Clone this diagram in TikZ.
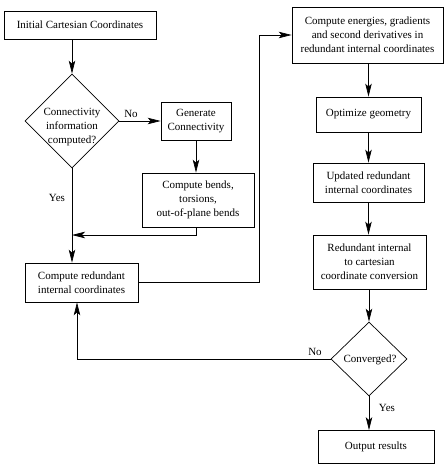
\documentclass[tikz,border=0pt]{standalone}
\usepackage{fontspec}
\setmainfont{Liberation Serif}
\usetikzlibrary{shapes.geometric,arrows.meta}

\tikzset{
  box/.style={draw, line width=0.7pt, align=center, inner sep=0pt,
              font=\fontsize{11}{14}\selectfont},
  decision/.style={draw, diamond, line width=0.7pt, inner sep=0pt},
  txt/.style={align=center, inner sep=0pt, font=\fontsize{11}{14}\selectfont},
  arr/.style={line width=0.7pt, -{Stealth[length=13pt,width=6.5pt,inset=3pt]}},
  ln/.style={line width=0.7pt}
}

\begin{document}
\begin{tikzpicture}[x=1pt,y=-1pt]
  \useasboundingbox (0,0) rectangle (446,464);

  % left column
  \node[box, minimum width=152pt, minimum height=28pt] (init) at (80,25)
    {Initial Cartesian Coordinates};
  \node[decision, minimum width=94pt, minimum height=94pt] (dia1) at (72,121) {};
  \node[txt] (dia1t) at (72,127) {Connectivity\\information\\computed?};
  \node[box, minimum width=70pt, minimum height=38pt] (gen) at (196,121)
    {Generate\\Connectivity};
  \node[box, minimum width=112pt, minimum height=54pt] (bends) at (198,200)
    {Compute bends,\\torsions,\\out-of-plane bends};
  \node[box, minimum width=113pt, minimum height=39pt] (red) at (81.5,282.5)
    {Compute redundant\\internal coordinates};

  % right column
  \node[box, minimum width=151pt, minimum height=56pt] (energies) at (367.5,35)
    {Compute energies, gradients\\and second derivatives in\\redundant internal coordinates};
  \node[box, minimum width=105pt, minimum height=35pt] (opt) at (368.5,114.5)
    {Optimize geometry};
  \node[box, minimum width=111pt, minimum height=39pt] (upd) at (368.5,182.5)
    {Updated redundant\\internal coordinates};
  \node[box, minimum width=113pt, minimum height=54pt] (conv) at (369.5,262)
    {Redundant internal\\to cartesian\\coordinate conversion};
  \node[decision, minimum width=76pt, minimum height=74pt] (dia2) at (369,359) {};
  \node[txt] (dia2t) at (370,360) {Converged?};
  \node[box, minimum width=116pt, minimum height=33pt] (out) at (376,447)
    {Output results};

  % helper points for the bent connectors
  \coordinate (merge) at (72,235);
  \coordinate (riser) at (259,35);
  \coordinate (back) at (77,359);

  % connectors
  \draw[arr] (init.south -| dia1.north) -- (dia1.north);
  \draw[arr] (dia1.east) -- (gen.west);
  \draw[arr] (gen.south) -- (gen.south |- bends.north);
  \draw[arr] (gen.south |- bends.south) |- (merge);
  \draw[arr] (dia1.south) -- (dia1.south |- red.north);
  \draw[arr] (red.east) -| (riser) -- (energies.west);
  \draw[arr] (energies.south -| opt.north) -- (opt.north);
  \draw[arr] (opt.south) -- (upd.north);
  \draw[arr] (upd.south) -- (upd.south |- conv.north);
  \draw[arr] (conv.south -| dia2.north) -- (dia2.north);
  \draw[ln] (dia2.west) -- (back);
  \draw[arr] (back) -- (back |- red.south);
  \draw[arr] (dia2.south) -- (dia2.south |- out.north);

  % branch labels
  \node[txt] (no1) at (131,114) {No};
  \node[txt] (yes1) at (57,198) {Yes};
  \node[txt] (no2) at (315,352) {No};
  \node[txt] (yes2) at (387,408) {Yes};
\end{tikzpicture}
\end{document}
